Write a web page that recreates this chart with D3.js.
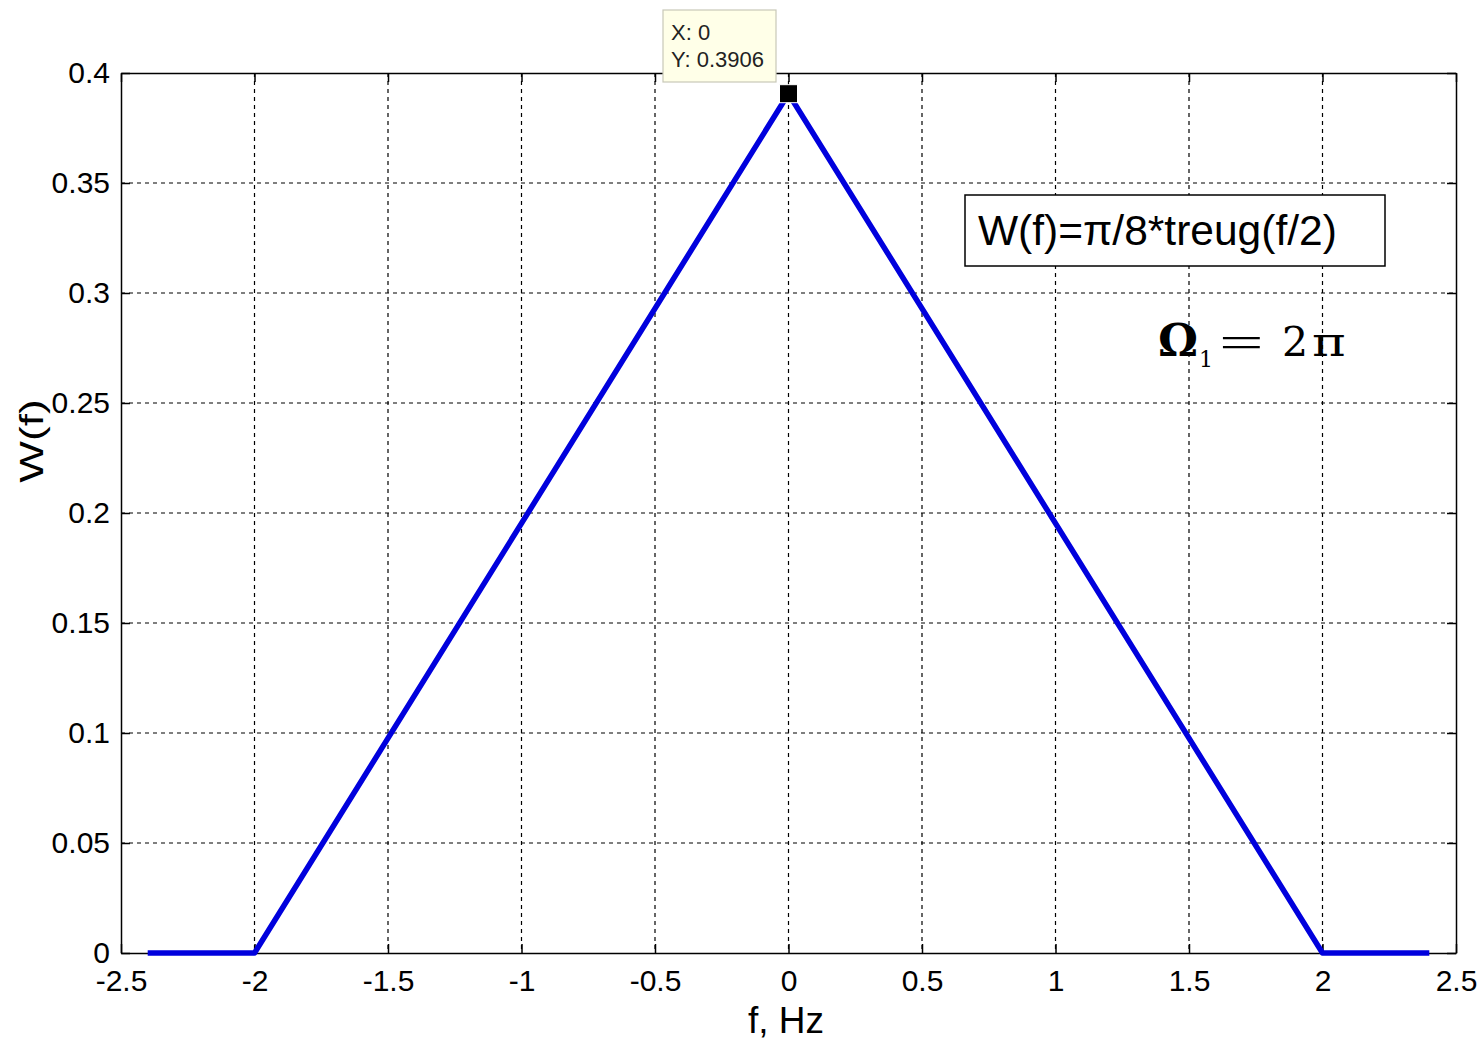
<!DOCTYPE html>
<html><head><meta charset="utf-8">
<script src="https://d3js.org/d3.v7.min.js"></script>
<style>body{margin:0;background:#fff;} svg{display:block;}</style>
</head><body>
<script>
const fVals = [-2.4, -2, 0, 2, 2.4];
const wVals = [0, 0, 0.3906, 0, 0];
const xTicks = [-2.5,-2,-1.5,-1,-0.5,0,0.5,1,1.5,2,2.5];
const xTickLabels = ["-2.5","-2","-1.5","-1","-0.5","0","0.5","1","1.5","2","2.5"];
const yTicks = [0,0.05,0.1,0.15,0.2,0.25,0.3,0.35,0.4];
const yTickLabels = ["0","0.05","0.1","0.15","0.2","0.25","0.3","0.35","0.4"];
const peak = {x:0, y:0.3906};

const W=1483,H=1040;
const L=121,R=1456,T=73,B=953;
const svg=d3.select("body").append("svg").attr("width",W).attr("height",H);
const x=d3.scaleLinear().domain([-2.5,2.5]).range([L,R]);
const y=d3.scaleLinear().domain([0,0.4]).range([B,T]);
const font="Arial, 'Liberation Sans', sans-serif";

// grid
const g=svg.append("g");
g.selectAll(".vg").data(xTicks.slice(1,-1)).enter().append("line")
 .attr("x1",d=>x(d)).attr("x2",d=>x(d)).attr("y1",T).attr("y2",B)
 .attr("stroke","#000").attr("stroke-width",1.2).attr("stroke-dasharray","4,4");
g.selectAll(".hg").data(yTicks.slice(1,-1)).enter().append("line")
 .attr("y1",d=>y(d)).attr("y2",d=>y(d)).attr("x1",L).attr("x2",R)
 .attr("stroke","#000").attr("stroke-width",1.2).attr("stroke-dasharray","4,4");

// axes
const xb=svg.append("g").attr("transform",`translate(0,${B})`)
 .call(d3.axisBottom(x).tickValues(xTicks).tickFormat((d,i)=>xTickLabels[i]).tickSizeInner(-9).tickSizeOuter(0).tickPadding(17));
const xt=svg.append("g").attr("transform",`translate(0,${T})`)
 .call(d3.axisTop(x).tickValues(xTicks).tickFormat("").tickSizeInner(-9).tickSizeOuter(0));
const yl=svg.append("g").attr("transform",`translate(${L},0)`)
 .call(d3.axisLeft(y).tickValues(yTicks).tickFormat((d,i)=>yTickLabels[i]).tickSizeInner(-9).tickSizeOuter(0).tickPadding(11));
const yr=svg.append("g").attr("transform",`translate(${R},0)`)
 .call(d3.axisRight(y).tickValues(yTicks).tickFormat("").tickSizeInner(-9).tickSizeOuter(0));
[xb,xt,yl,yr].forEach(a=>{
 a.selectAll("path").attr("stroke","#000").attr("stroke-width",1.5);
 a.selectAll("line").attr("stroke","#000").attr("stroke-width",1.5);
 a.selectAll("text").attr("font-family",font).attr("font-size",30).attr("fill","#000");
});
xb.selectAll("text").attr("dy","0.71em");
yl.selectAll("text").attr("dy","0.33em");

// line
const line=d3.line().x((d,i)=>x(fVals[i])).y((d,i)=>y(wVals[i]));
svg.append("path").datum(fVals).attr("d",line).attr("fill","none")
 .attr("stroke","#0000dd").attr("stroke-width",5.5).attr("stroke-linejoin","round");

// marker
svg.append("rect").attr("x",x(peak.x)-9).attr("y",y(peak.y)-9).attr("width",18).attr("height",18)
 .attr("fill","#000").attr("stroke","#fff").attr("stroke-width",1);

// tooltip
svg.append("rect").attr("x",663).attr("y",10).attr("width",113).attr("height",72)
 .attr("fill","#ffffe8").attr("stroke","#c8c8b8").attr("stroke-width",1.2);
svg.append("text").attr("x",671).attr("y",40).attr("font-family",font).attr("font-size",22).attr("fill","#222").text("X: "+peak.x);
svg.append("text").attr("x",671).attr("y",67).attr("font-family",font).attr("font-size",22).attr("fill","#222").text("Y: "+peak.y);

// legend box
svg.append("rect").attr("x",965).attr("y",195).attr("width",420).attr("height",71)
 .attr("fill","#fff").attr("stroke","#000").attr("stroke-width",1.5);
svg.append("text").attr("x",978).attr("y",245).attr("font-family",font).attr("font-size",42.5).attr("fill","#000").text("W(f)=π/8*treug(f/2)");

// omega annotation
const serif="'DejaVu Serif','Liberation Serif',serif";
const oa=svg.append("g").attr("font-family",serif).attr("fill","#000");
oa.append("text").attr("x",1158).attr("y",356).attr("font-size",45).attr("font-weight","bold").text("Ω");
oa.append("text").attr("x",1199).attr("y",367).attr("font-size",22).text("1");
oa.append("text").attr("x",0).attr("y",357).attr("font-size",44).attr("font-family","'Liberation Serif',serif")
 .attr("transform","translate(1219,0) scale(1.8,1)").text("=");
oa.append("text").attr("x",1282).attr("y",356).attr("font-size",41).text("2");
oa.append("text").attr("x",0).attr("y",356).attr("font-size",41)
 .attr("transform","translate(1312,0) scale(1.25,1)").text("π");

// labels
svg.append("text").attr("x",786).attr("y",1033).attr("text-anchor","middle").attr("font-family",font).attr("font-size",37).attr("fill","#000").text("f, Hz");
svg.append("text").attr("transform","translate(43,441) rotate(-90) scale(1.3,1)").attr("text-anchor","middle").attr("font-family",font).attr("font-size",34).attr("fill","#000").text("W(f)");
</script>
</body></html>
